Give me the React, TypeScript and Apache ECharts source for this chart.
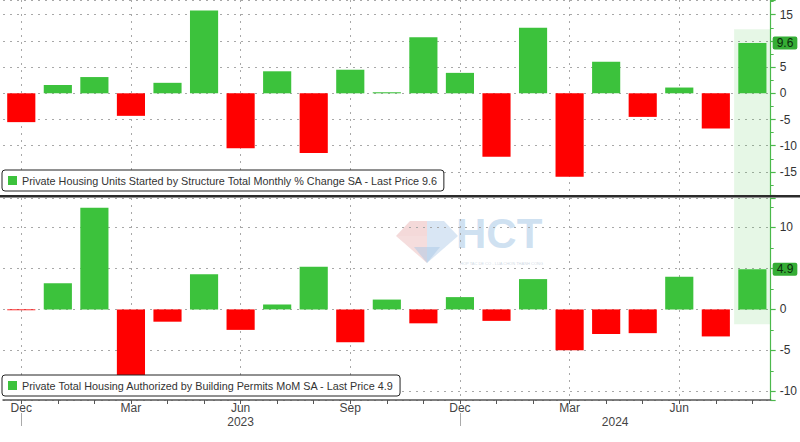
import React, { useEffect, useRef } from 'react';
import * as echarts from 'echarts';

const categories = [
  'Dec 22', 'Jan 23', 'Feb 23', 'Mar 23', 'Apr 23', 'May 23', 'Jun 23', 'Jul 23', 'Aug 23', 'Sep 23',
  'Oct 23', 'Nov 23', 'Dec 23', 'Jan 24', 'Feb 24', 'Mar 24', 'Apr 24', 'May 24', 'Jun 24', 'Jul 24', 'Aug 24',
];
const startsChange = [-5.5, 1.6, 3.1, -4.3, 2.0, 15.8, -10.5, 4.2, -11.4, 4.5, 0.2, 10.7, 3.9, -12.1, 12.5, -15.9, 6.0, -4.5, 1.1, -6.7, 9.6];
const permitsChange = [-0.1, 3.2, 12.4, -8.5, -1.5, 4.3, -2.5, 0.6, 5.2, -4.0, 1.2, -1.7, 1.5, -1.4, 3.7, -5.0, -3.0, -2.9, 4.0, -3.3, 4.9];
const startsAxisRange = [-19.4, 17.8];
const permitsAxisRange = [-11.06, 13.6];
const startsShade = [12.2, -19.4];
const permitsShade = [13.6, -1.8];
const monthLabels = ['Dec', 'Mar', 'Jun', 'Sep'];
const yearSeparatorMonth = 'Dec';
const yearLabelAt = ['Jun 23', 'Apr 24'];
const startsName = 'Private Housing Units Started by Structure Total Monthly % Change SA - Last Price 9.6';
const permitsName = 'Private Total Housing Authorized by Building Permits MoM SA - Last Price 4.9';

const GREEN = '#3cc23c';
const RED = '#ff0000';
const AXIS_GREEN = '#4cb84c';
const FONT = 'Liberation Sans, Arial, sans-serif';

const lastIdx = categories.length - 1;
const month = (v: string) => v.split(' ')[0];
const dotted = { color: '#a8a8a8', width: 1, type: [2, 5] as any };

function yAxisFor(gridIndex: number, range: number[], splitNumber: number, hideVal: number) {
  return {
    type: 'value',
    gridIndex,
    position: 'right',
    min: range[0],
    max: range[1],
    splitNumber,
    axisLine: { show: true, lineStyle: { color: AXIS_GREEN, width: 1.2 } },
    axisTick: { show: true, length: 5, lineStyle: { color: AXIS_GREEN, width: 1.2 } },
    minorTick: { show: true, splitNumber: 2, length: 3, lineStyle: { color: AXIS_GREEN } },
    axisLabel: {
      color: '#333',
      fontSize: 12,
      fontFamily: FONT,
      margin: 9,
      formatter: (v: number) => (Math.abs(v % 5) < 1e-9 && Math.abs(v - hideVal) > 1e-9 ? String(v) : ''),
    },
    splitLine: { show: true, lineStyle: dotted },
  };
}

function pill(value: number) {
  return {
    symbol: ['none', 'none'],
    silent: true,
    lineStyle: { color: 'rgba(0,0,0,0)', width: 1, type: 'solid' },
    data: [{ yAxis: value }],
    label: {
      show: true,
      position: 'end',
      distance: 2,
      formatter: String(value),
      backgroundColor: '#35ad35',
      color: '#0b2a0b',
      fontSize: 12,
      fontFamily: FONT,
      padding: [1, 4, 0, 4],
      borderRadius: 2,
    },
  };
}

const barColor = (p: any) => (p.value >= 0 ? GREEN : RED);

export default function App() {
  const ref = useRef<HTMLDivElement>(null);
  useEffect(() => {
    if (!ref.current) return;
    const chart = echarts.init(ref.current, undefined, { renderer: 'svg' });
    const splitX = (i: number) => monthLabels.includes(month(categories[i]));
    const legendBase = {
      icon: 'rect', itemWidth: 9, itemHeight: 9, itemGap: 5,
      padding: [5, 6, 5, 6], backgroundColor: '#fff', borderColor: '#222', borderWidth: 1, borderRadius: 3,
      textStyle: { color: '#333', fontSize: 10.8, fontFamily: FONT },
      selectedMode: false,
    };
    const option: any = {
      animation: false,
      backgroundColor: '#ffffff',
      textStyle: { fontFamily: FONT },
      grid: [
        { left: 3, right: 28.5, top: 0, height: 195 },
        { left: 3, right: 28.5, top: 198, height: 202 },
      ],
      xAxis: [
        {
          type: 'category', gridIndex: 0, data: categories,
          axisLine: { show: false }, axisTick: { show: false }, axisLabel: { show: false },
          splitLine: { show: true, interval: (i: number) => splitX(i), alignWithLabel: true, lineStyle: dotted },
        },
        {
          type: 'category', gridIndex: 1, data: categories, position: 'bottom',
          axisLine: { show: true, onZero: false, lineStyle: { color: '#555', width: 1.5 } },
          axisTick: { show: true, alignWithLabel: true, length: 4, interval: 0, lineStyle: { color: '#555' } },
          axisLabel: {
            interval: (i: number) => splitX(i),
            formatter: (v: string) => month(v),
            color: '#444', fontSize: 12, fontFamily: FONT, margin: 2,
          },
          splitLine: { show: true, interval: (i: number) => splitX(i), alignWithLabel: true, lineStyle: dotted },
        },
        {
          type: 'category', gridIndex: 1, data: categories, position: 'bottom', offset: 13,
          axisLine: { show: false, onZero: false },
          axisTick: {
            show: true, alignWithLabel: true, length: 13,
            interval: (i: number) => month(categories[i]) === yearSeparatorMonth,
            lineStyle: { color: '#aaa' },
          },
          axisLabel: {
            interval: (i: number) => yearLabelAt.includes(categories[i]),
            formatter: (v: string) => (v === yearLabelAt[1] ? '{s|20' + v.split(' ')[1] + '}' : '20' + v.split(' ')[1]),
            rich: { s: { padding: [0, 0, 0, 18], color: '#444', fontSize: 12, fontFamily: FONT } },
            color: '#444', fontSize: 12, fontFamily: FONT, margin: 3,
          },
          splitLine: { show: false },
        },
        { type: 'category', gridIndex: 0, data: categories, show: false },
      ],
      yAxis: [
        yAxisFor(0, startsAxisRange, 7, 10),
        yAxisFor(1, permitsAxisRange, 5, 5),
      ],
      legend: [
        { ...legendBase, data: [{ name: startsName, itemStyle: { color: GREEN } }], left: 2, top: 170 },
        { ...legendBase, data: [{ name: permitsName, itemStyle: { color: GREEN } }], left: 2, top: 375 },
      ],
      series: [
        {
          name: 'shadeTopUp', type: 'bar', xAxisIndex: 3, yAxisIndex: 0, stack: 'st', barWidth: '100%', z: 1, silent: true,
          itemStyle: { color: 'rgba(60,190,60,0.13)' },
          data: categories.map((_, i) => (i === lastIdx ? startsShade[0] : null)),
        },
        {
          name: 'shadeTopDown', type: 'bar', xAxisIndex: 3, yAxisIndex: 0, stack: 'st', barWidth: '100%', z: 1, silent: true,
          itemStyle: { color: 'rgba(60,190,60,0.13)' },
          data: categories.map((_, i) => (i === lastIdx ? startsShade[1] : null)),
        },
        {
          name: 'shadeBotUp', type: 'bar', xAxisIndex: 2, yAxisIndex: 1, stack: 'sb', barWidth: '100%', z: 1, silent: true,
          itemStyle: { color: 'rgba(60,190,60,0.13)' },
          data: categories.map((_, i) => (i === lastIdx ? permitsShade[0] : null)),
        },
        {
          name: 'shadeBotDown', type: 'bar', xAxisIndex: 2, yAxisIndex: 1, stack: 'sb', barWidth: '100%', z: 1, silent: true,
          itemStyle: { color: 'rgba(60,190,60,0.13)' },
          data: categories.map((_, i) => (i === lastIdx ? permitsShade[1] : null)),
        },
        {
          name: startsName, type: 'bar', xAxisIndex: 0, yAxisIndex: 0, barCategoryGap: '23%', z: 2,
          itemStyle: { color: barColor },
          data: startsChange,
          markLine: pill(startsChange[lastIdx]),
        },
        {
          name: permitsName, type: 'bar', xAxisIndex: 1, yAxisIndex: 1, barCategoryGap: '23%', z: 2,
          itemStyle: { color: barColor },
          data: permitsChange,
          markLine: pill(permitsChange[lastIdx]),
        },
      ],
      graphic: [
        { type: 'rect', left: 0, top: 195, shape: { width: 800, height: 2.5 }, style: { fill: '#2b2b2b' }, z: 50 },
        {
          type: 'group', left: 396, top: 212, z: 0, silent: true,
          children: [
            { type: 'polygon', shape: { points: [[14, 0], [31, 0], [31, 15], [0, 15]] }, style: { fill: 'rgba(230,170,170,0.45)' } },
            { type: 'polygon', shape: { points: [[31, 0], [48, 0], [62, 15], [31, 15]] }, style: { fill: 'rgba(170,200,230,0.45)' } },
            { type: 'polygon', shape: { points: [[0, 15], [31, 15], [31, 42]] }, style: { fill: 'rgba(230,170,170,0.4)' } },
            { type: 'polygon', shape: { points: [[31, 15], [62, 15], [31, 42]] }, style: { fill: 'rgba(170,200,230,0.45)' } },
            { type: 'polygon', shape: { points: [[18, 26], [44, 26], [31, 42]] }, style: { fill: 'rgba(170,200,230,0.5)' } },
            {
              type: 'text', x: 60, y: -9,
              style: { text: 'HCT', fill: 'rgba(160,195,228,0.5)', font: 'bold 42px Liberation Sans, Arial, sans-serif' },
            },
            {
              type: 'text', x: 64, y: 40,
              style: { text: 'HOP TAC DE CO - LUA CHON THANH CONG', fill: 'rgba(160,180,200,0.5)', font: '4px Liberation Sans, Arial, sans-serif' },
            },
          ],
        },
      ],
    };
    chart.setOption(option);
    return () => chart.dispose();
  }, []);
  return <div ref={ref} style={{ position: 'absolute', left: 0, top: 0, width: 800, height: 442 }} />;
}
